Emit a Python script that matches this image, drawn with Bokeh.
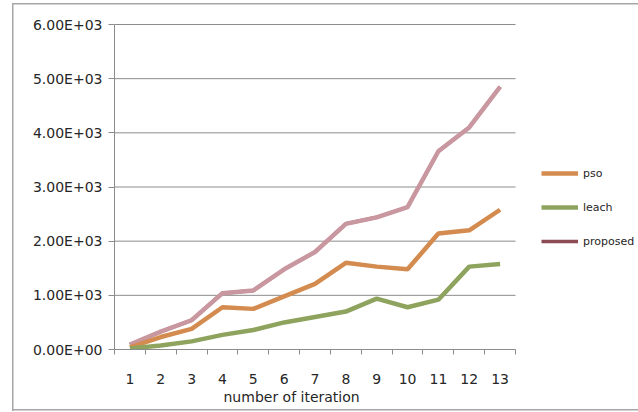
from bokeh.plotting import figure
from bokeh.models import FixedTicker, Legend, LegendItem, Range1d, Title
from bokeh.embed import file_html
from bokeh.resources import INLINE

# Cost per iteration for three routing schemes
iterations = list(range(1, 14))
pso = [40, 230, 380, 780, 750, 980, 1210, 1600, 1530, 1480, 2140, 2200, 2580]
leach = [20, 75, 150, 270, 360, 500, 600, 700, 940, 780, 920, 1530, 1580]
proposed = [90, 330, 540, 1040, 1090, 1480, 1800, 2320, 2440, 2630, 3660, 4100, 4850]

y_ticks = [0, 1000, 2000, 3000, 4000, 5000, 6000]
y_tick_labels = ["0.00E+00", "1.00E+03", "2.00E+03", "3.00E+03",
                 "4.00E+03", "5.00E+03", "6.00E+03"]
x_tick_labels = [str(i) for i in iterations]

FONT = "DejaVu Sans"
GRID = "#8c8c8c"
TEXT = "#262626"
EDGE = "#a6a6a6"

# The frame runs to the right edge so the legend can sit inside it;
# the category axis itself covers 0.5 .. 13.5.
x_lo, x_hi = 0.5, 13.5
x_end = x_lo + (x_hi - x_lo) * 524 / 401
y_end = 6000 * 327 / 325

p = figure(width=638, height=412, output_backend="svg", toolbar_location=None,
           x_range=Range1d(x_lo, x_end), y_range=Range1d(0, y_end),
           min_border_left=114, min_border_right=0,
           min_border_top=22, min_border_bottom=63)
p.outline_line_color = None
p.background_fill_color = "white"
p.border_fill_color = None

# chart-area border drawn behind the (transparent) canvas border
bar = f"linear-gradient({EDGE},{EDGE})"
p.styles = {
    "background": (f"{bar} 12px 3px / 1.5px 408px no-repeat, "
                   f"{bar} 12px 3px / 626px 1.5px no-repeat, "
                   f"{bar} 12px 409px / 626px 1.5px no-repeat, white"),
}

# horizontal gridlines limited to the category span
p.segment(x0=[x_lo] * len(y_ticks), x1=[x_hi] * len(y_ticks),
          y0=y_ticks, y1=y_ticks, line_color=GRID, line_width=1)

# legend key colour for the proposed series, sits under its plotted line
r_prop_key = p.line(iterations, proposed, line_color="#8c4a52", line_width=3.5)
# series
r_prop = p.line(iterations, proposed, line_color="#c9979f", line_width=4.5)
r_pso = p.line(iterations, pso, line_color="#d48b4f", line_width=4.5)
r_leach = p.line(iterations, leach, line_color="#8ea45e", line_width=4.5)

# y axis
p.yaxis.bounds = (0, 6000)
p.yaxis.ticker = FixedTicker(ticks=y_ticks, minor_ticks=[])
p.yaxis.major_label_overrides = {t: l for t, l in zip(y_ticks, y_tick_labels)}
p.yaxis.axis_line_color = GRID
p.yaxis.major_tick_line_color = GRID
p.yaxis.major_tick_out = 6
p.yaxis.major_tick_in = 0
p.yaxis.minor_tick_line_color = None
p.yaxis.major_label_standoff = 6
p.yaxis.major_label_text_font = FONT
p.yaxis.major_label_text_font_size = "14px"
p.yaxis.major_label_text_color = TEXT

# x axis: labels at category centres, tick marks at category boundaries
p.xaxis.bounds = (x_lo, x_hi)
p.xaxis.ticker = FixedTicker(ticks=iterations,
                             minor_ticks=[i + 0.5 for i in range(0, 14)])
p.xaxis.major_label_overrides = {i: l for i, l in zip(iterations, x_tick_labels)}
p.xaxis.axis_line_color = GRID
p.xaxis.major_tick_line_color = None
p.xaxis.minor_tick_line_color = GRID
p.xaxis.minor_tick_out = 5
p.xaxis.minor_tick_in = 0
p.xaxis.major_tick_out = 5
p.xaxis.major_label_standoff = 19
p.xaxis.major_label_text_font = FONT
p.xaxis.major_label_text_font_size = "14px"
p.xaxis.major_label_text_color = TEXT

p.add_layout(Title(text="number of iteration", align="left", offset=109,
                   text_font=FONT, text_font_size="14px", text_font_style="normal",
                   text_color=TEXT, standoff=0), "below")

p.xgrid.grid_line_color = None
p.ygrid.grid_line_color = None

legend = Legend(items=[LegendItem(label="pso", renderers=[r_pso]),
                       LegendItem(label="leach", renderers=[r_leach]),
                       LegendItem(label="proposed", renderers=[r_prop_key])],
                location=(427, 98), orientation="vertical",
                glyph_width=37, glyph_height=20, spacing=14,
                label_standoff=5, padding=0, margin=0,
                label_text_font=FONT, label_text_font_size="11px",
                label_text_color=TEXT,
                border_line_color=None, background_fill_alpha=0)
p.add_layout(legend)

open("out.html", "w").write(file_html(p, INLINE))
